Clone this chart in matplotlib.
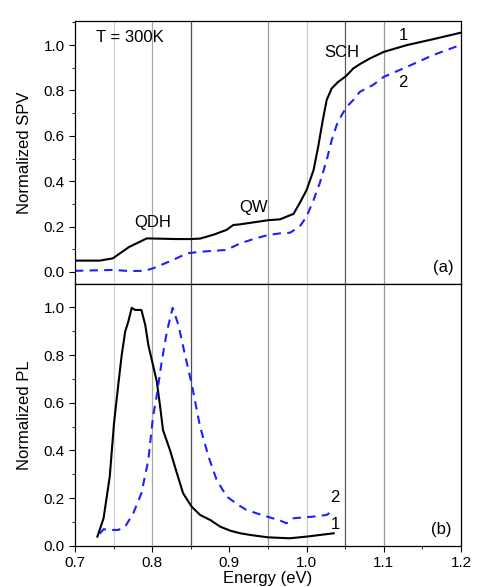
import numpy as np
import matplotlib.pyplot as plt
from matplotlib.ticker import MultipleLocator

plt.rcParams['font.family'] = ['Liberation Sans', 'DejaVu Sans']

# SPV spectra (top panel)
e_spv1 = [0.700, 0.732, 0.749, 0.770, 0.793, 0.832, 0.849, 0.862, 0.880, 0.896, 0.905,
          0.914, 0.950, 0.9655, 0.983, 0.991, 1.000, 1.009, 1.015, 1.021, 1.026, 1.0325,
          1.041, 1.051, 1.0605, 1.069, 1.082, 1.100, 1.130, 1.164, 1.199]
spv1 = [0.050, 0.050, 0.060, 0.110, 0.148, 0.145, 0.145, 0.147, 0.165, 0.185, 0.207,
        0.210, 0.228, 0.232, 0.256, 0.303, 0.361, 0.449, 0.552, 0.670, 0.758, 0.809,
        0.838, 0.863, 0.897, 0.916, 0.941, 0.970, 1.000, 1.026, 1.054]

e_spv2 = [0.700, 0.750, 0.770, 0.790, 0.801, 0.827, 0.845, 0.862, 0.896, 0.914, 0.931,
          0.950, 0.9655, 0.9785, 0.991, 1.000, 1.009, 1.017, 1.026, 1.0325, 1.039, 1.0455,
          1.052, 1.0605, 1.069, 1.086, 1.100, 1.130, 1.164, 1.199]
spv2 = [0.005, 0.009, 0.004, 0.005, 0.016, 0.053, 0.082, 0.089, 0.097, 0.126, 0.145,
        0.163, 0.170, 0.173, 0.200, 0.244, 0.317, 0.391, 0.493, 0.581, 0.648, 0.692,
        0.728, 0.758, 0.794, 0.824, 0.860, 0.904, 0.956, 1.000]

# PL spectra (bottom panel)
e_pl1 = [0.729, 0.737, 0.745, 0.7505, 0.756, 0.7605, 0.765, 0.769, 0.7735, 0.778, 0.786,
         0.791, 0.795, 0.801, 0.806, 0.810, 0.814, 0.823, 0.832, 0.840, 0.851, 0.862,
         0.875, 0.888, 0.901, 0.914, 0.927, 0.950, 0.978, 1.000, 1.035]
pl1 = [0.038, 0.115, 0.290, 0.513, 0.674, 0.800, 0.898, 0.940, 0.998, 0.989, 0.989,
       0.926, 0.842, 0.758, 0.688, 0.590, 0.485, 0.401, 0.304, 0.220, 0.164, 0.129,
       0.108, 0.080, 0.063, 0.052, 0.045, 0.035, 0.031, 0.038, 0.052]

e_pl2 = [0.732, 0.737, 0.745, 0.756, 0.765, 0.7755, 0.786, 0.795, 0.801, 0.806, 0.8123,
         0.819, 0.8265, 0.834, 0.8425, 0.851, 0.862, 0.873, 0.8835, 0.8965, 0.9115, 0.922,
         0.935, 0.966, 0.974, 0.983, 1.009, 1.026, 1.035]
pl2 = [0.050, 0.069, 0.066, 0.066, 0.080, 0.136, 0.220, 0.360, 0.540, 0.632, 0.772,
       0.898, 0.998, 0.926, 0.800, 0.680, 0.500, 0.373, 0.276, 0.206, 0.171, 0.150,
       0.136, 0.105, 0.094, 0.115, 0.122, 0.129, 0.150]

# vertical marker lines and their shades
vlines = [0.75, 0.80, 0.85, 0.95, 1.00, 1.05, 1.10]
vcolors = ['#d4d4d4', '#a8a8a8', '#505050', '#9a9a9a', '#cccccc', '#5a5a5a', '#9a9a9a']

fig = plt.figure(figsize=(4.88, 5.87), dpi=100)
ax1 = fig.add_axes([0.1537, 0.5162, 0.791, 0.448])
ax2 = fig.add_axes([0.1537, 0.0704, 0.791, 0.4458], sharex=ax1)

blue = '#1f1fff'
fs = 12
for ax in (ax1, ax2):
    for xv, c in zip(vlines, vcolors):
        ax.axvline(xv, color=c, lw=0.9, zorder=0)
    ax.xaxis.set_major_locator(MultipleLocator(0.1))
    ax.xaxis.set_minor_locator(MultipleLocator(0.05))
    ax.yaxis.set_major_locator(MultipleLocator(0.2))
    ax.yaxis.set_minor_locator(MultipleLocator(0.1))
    ax.tick_params(which='both', direction='out', top=False, right=False, labelsize=11)
    ax.tick_params(which='major', length=4)
    ax.tick_params(which='minor', length=2.5)
    for s in ax.spines.values():
        s.set_linewidth(0.9)

ax1.plot(e_spv1, spv1, color='black', lw=1.5)
ax1.plot(e_spv2, spv2, color=blue, lw=1.5, dashes=(4, 3))
ax1.set_xlim(0.7, 1.2)
ax1.set_ylim(-0.053, 1.106)
ax1.set_ylabel('Normalized SPV', fontsize=fs, labelpad=8)
ax1.tick_params(labelbottom=False)

ax1.text(0.771, 1.035, 'T = 300K', fontsize=fs, ha='center', va='center')
ax1.text(0.801, 0.22, 'QDH', fontsize=fs, ha='center', va='center')
ax1.text(0.931, 0.282, 'QW', fontsize=fs, ha='center', va='center')
ax1.text(1.045, 0.969, 'SCH', fontsize=fs, ha='center', va='center')
ax1.text(1.125, 1.044, '1', fontsize=fs, ha='center', va='center')
ax1.text(1.125, 0.837, '2', fontsize=fs, ha='center', va='center')
ax1.text(1.177, 0.02, '(a)', fontsize=fs, ha='center', va='center')

ax2.plot(e_pl1, pl1, color='black', lw=1.5)
ax2.plot(e_pl2, pl2, color=blue, lw=1.5, dashes=(4, 3))
ax2.set_ylim(0, 1.098)
ax2.set_ylabel('Normalized PL', fontsize=fs, labelpad=8)
ax2.set_xlabel('Energy (eV)', fontsize=fs, labelpad=1)
ax2.set_xticks([0.7, 0.8, 0.9, 1.0, 1.1, 1.2])
ax2.set_xticklabels(['0.7', '0.8', '0.9', '1.0', '1.1', '1.2'])

ax2.text(1.037, 0.204, '2', fontsize=fs, ha='center', va='center')
ax2.text(1.037, 0.087, '1', fontsize=fs, ha='center', va='center')
ax2.text(1.175, 0.066, '(b)', fontsize=fs, ha='center', va='center')

fig.savefig('out.png', dpi=100)
